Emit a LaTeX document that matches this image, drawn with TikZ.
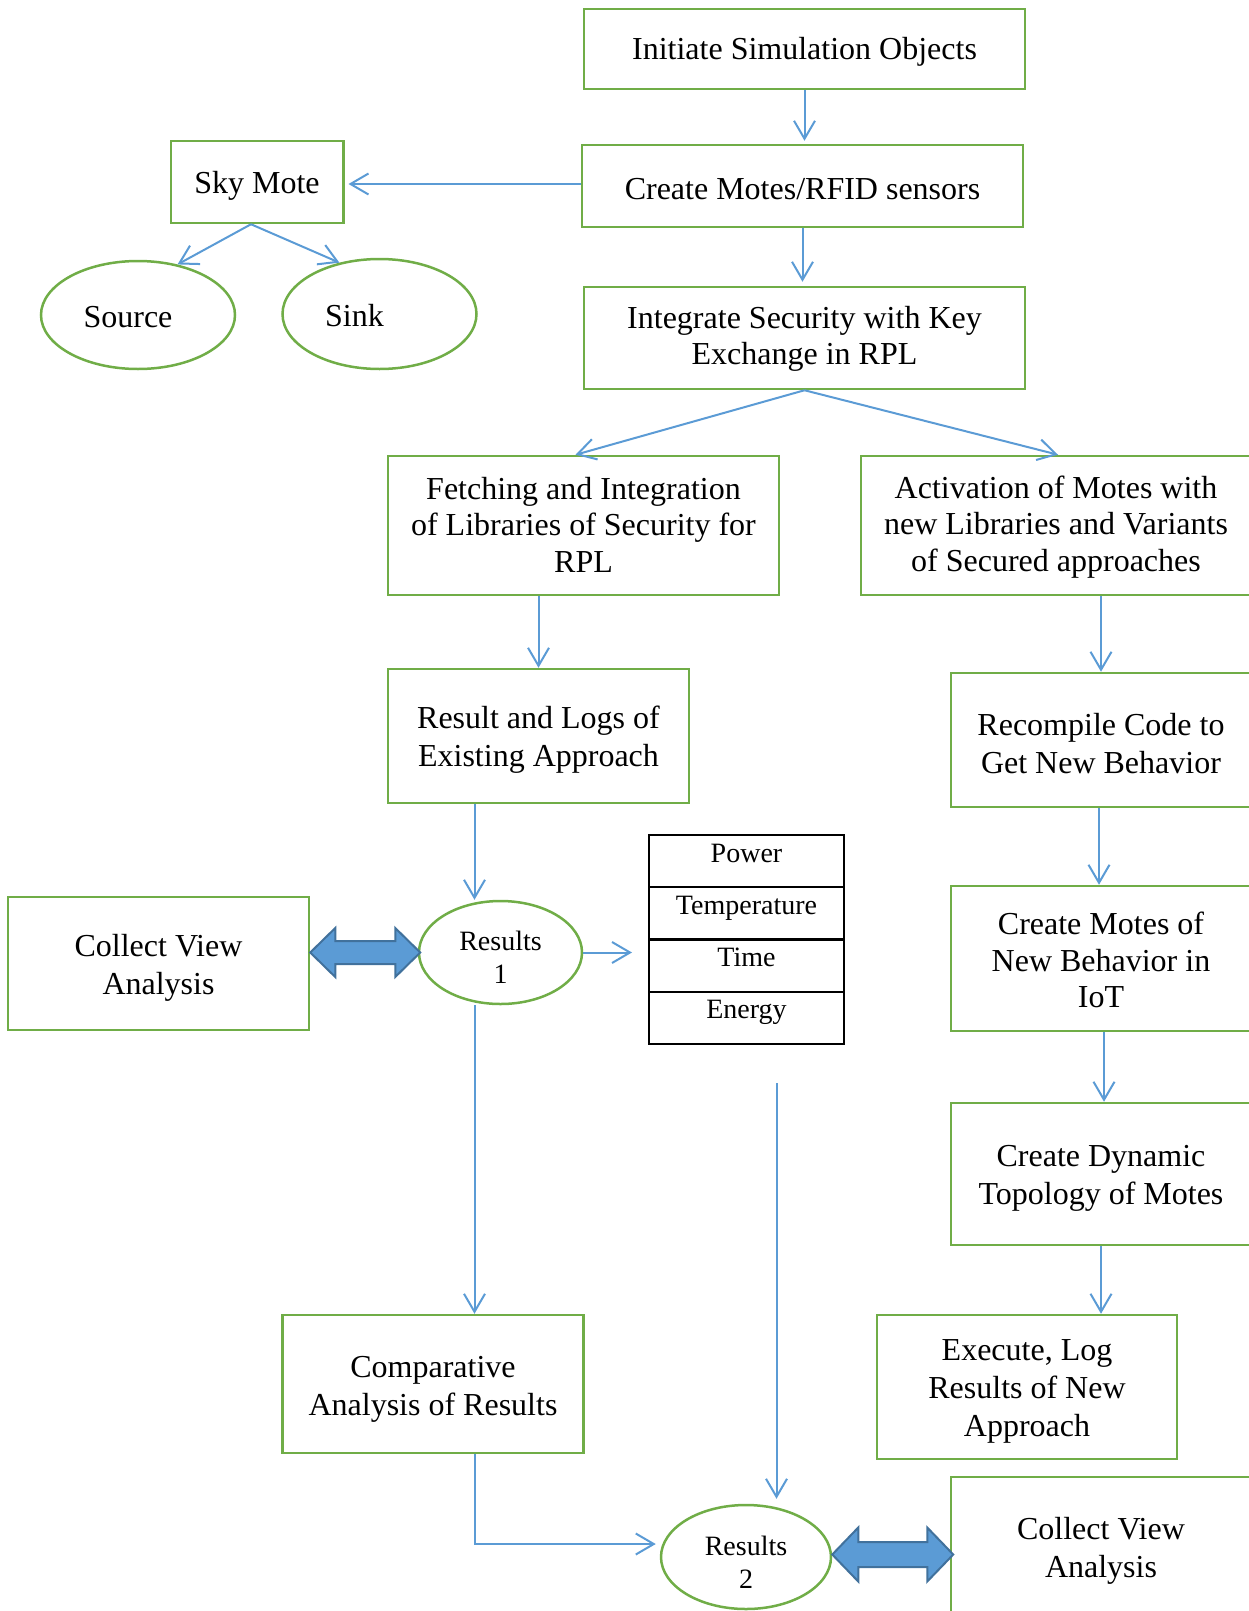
\documentclass[tikz,border=0pt]{standalone}
\usepackage{fontspec}
\setmainfont{Liberation Serif}
\usetikzlibrary{arrows.meta,shapes.geometric,calc}
\definecolor{grn}{HTML}{70AD47}
\definecolor{blu}{HTML}{5B9BD5}
\definecolor{bdark}{HTML}{41719C}
\begin{document}
\begin{tikzpicture}[x=1pt,y=-1pt,
  gbox/.style={draw=grn, line width=2.5pt, inner sep=0pt},
  gell/.style={ellipse, draw=grn, line width=2.5pt, inner sep=0pt},
  btxt/.style={align=center, inner sep=0pt, font=\fontsize{32}{38}\selectfont},
  ntxt/.style={align=center, inner sep=0pt, font=\fontsize{32}{36.5}\selectfont},
  stxt/.style={align=center, inner sep=0pt, font=\fontsize{28}{33}\selectfont},
  arr/.style={draw=blu, line width=2pt, -{Straight Barb[length=18pt,width=21pt]}},
  cell/.style={draw=black, line width=2pt, minimum width=195pt, minimum height=52.25pt, inner sep=0pt, text height=20pt, text depth=18pt, font=\fontsize{28}{32}\selectfont},
  dbl/.style={fill=blu, draw=bdark, line width=2pt, line join=miter}
]
\useasboundingbox (0,0) rectangle (1248,1611);

% box shapes
\node[gbox, minimum width=441pt, minimum height=80pt] (init) at (804.5,49) {};
\node[gbox, minimum width=441pt, minimum height=82pt] (create) at (802.5,186) {};
\node[gbox, minimum width=441pt, minimum height=102pt] (integ) at (804.5,338) {};
\node[gbox, minimum width=172.5pt, minimum height=82pt] (sky) at (257,182) {};
\node[gell, minimum width=194pt, minimum height=108pt] (src) at (138,315) {};
\node[gell, minimum width=194pt, minimum height=110pt] (sink) at (379.5,314) {};
\node[gbox, minimum width=391pt, minimum height=139pt] (fetch) at (583.5,525.5) {};
\node[gbox, minimum width=390pt, minimum height=139pt] (activ) at (1056,525.5) {};
\node[gbox, minimum width=301pt, minimum height=134pt] (reslog) at (538.5,736) {};
\node[gbox, minimum width=300pt, minimum height=134pt] (recomp) at (1101,740) {};
\node[gbox, minimum width=300pt, minimum height=145pt] (cmnew) at (1101,958.5) {};
\node[gbox, minimum width=300pt, minimum height=142pt] (dyn) at (1101,1174) {};
\node[gbox, minimum width=300pt, minimum height=144pt] (exec) at (1027,1387) {};
\node[gbox, minimum width=300pt, minimum height=140pt] (cva2) at (1101,1547) {};
\node[gbox, minimum width=301pt, minimum height=138pt] (comp) at (433,1384) {};
\node[gbox, minimum width=301pt, minimum height=133pt] (cva1) at (158.5,963.5) {};
\node[gell, minimum width=163pt, minimum height=103pt] (res1) at (500.5,952.5) {};
\node[gell, minimum width=170pt, minimum height=104pt] (res2) at (746,1557) {};

% texts
\node[btxt] (init-t) at ([yshift=-3pt]init.center) {Initiate Simulation Objects};
\node[btxt] (create-t) at ([yshift=-3pt]create.center) {Create Motes/RFID sensors};
\node[ntxt] (integ-t) at ([yshift=-1pt]integ.center) {Integrate Security with Key\\Exchange in RPL};
\node[btxt] (sky-t) at ([yshift=-4pt]sky.center) {Sky Mote};
\node[btxt] (src-t) at ([xshift=-10pt,yshift=-2pt]src.center) {Source};
\node[btxt] (sink-t) at ([xshift=-25pt,yshift=-2pt]sink.center) {Sink};
\node[ntxt] (fetch-t) at ([yshift=1pt]fetch.center) {Fetching and Integration\\of Libraries of Security for\\RPL};
\node[ntxt] (activ-t) at ([yshift=-1.5pt]activ.center) {Activation of Motes with\\new Libraries and Variants\\of Secured approaches};
\node[btxt] (reslog-t) at ([yshift=-4pt]reslog.center) {Result and Logs of\\Existing Approach};
\node[btxt] (recomp-t) at ([yshift=-4pt]recomp.center) {Recompile Code to\\Get New Behavior};
\node[ntxt] (cmnew-t) at ([yshift=-1.5pt]cmnew.center) {Create Motes of\\New Behavior in\\IoT};
\node[btxt] (dyn-t) at ([yshift=-4pt]dyn.center) {Create Dynamic\\Topology of Motes};
\node[btxt] (exec-t) at ([yshift=-4pt]exec.center) {Execute, Log\\Results of New\\Approach};
\node[btxt] (cva2-t) at ([yshift=-4pt]cva2.center) {Collect View\\Analysis};
\node[btxt] (comp-t) at ([yshift=-5pt]comp.center) {Comparative\\Analysis of Results};
\node[btxt] (cva1-t) at ([yshift=-4pt]cva1.center) {Collect View\\Analysis};
\node[stxt] (res1-t) at ([yshift=-5pt]res1.center) {Results\\1};
\node[stxt] (res2-t) at ([yshift=-5pt]res2.center) {Results\\2};

% table
\node[cell] (power) at (746.5,861.1) {Power};
\node[cell] (temp) at (746.5,913.4) {Temperature};
\node[cell] (time) at (746.5,965.6) {Time};
\node[cell] (energy) at (746.5,1017.9) {Energy};

% connectors
\draw[arr, shorten >=3pt] (init.south) -- (init.south |- create.north);
\draw[arr, shorten >=4pt] (create.south) -- (create.south |- integ.north);
\draw[arr, shorten >=4pt] ([yshift=2pt]create.west) -- ([yshift=2pt]create.west -| sky.east);
\draw[arr] ([xshift=-6pt]sky.south) -- (src.52);
\draw[arr] ([xshift=-6pt]sky.south) -- (sink.128);
\draw[arr] (integ.south) -- ([xshift=-8pt]fetch.north);
\draw[arr] (integ.south) -- ([xshift=2pt]activ.north);
\draw[arr] (fetch.south -| reslog.north) -- (reslog.north);
\draw[arr] (activ.south -| recomp.north) -- (recomp.north);
\draw[arr] ([xshift=-2pt]recomp.south) -- ([xshift=-2pt]cmnew.north);
\draw[arr] ([xshift=3pt]cmnew.south) -- ([xshift=3pt]dyn.north);
\draw[arr] (dyn.south) -- (dyn.south |- exec.north);
\draw[arr] ([xshift=-64pt]reslog.south) -- ([xshift=-26pt]res1.north);
\draw[arr] ([xshift=-26pt]res1.south) -- ([xshift=-26pt]res1.south |- comp.north);
\coordinate (tabarrow) at (632,951);
\draw[arr] (res1.east) -- (res1.east -| tabarrow);
\coordinate (vtop) at (776.5,1083);
\draw[arr, shorten >=5pt] (vtop) -- (vtop |- res2.north);
\draw[arr, shorten >=4pt] ([xshift=41.5pt]comp.south) |- ([yshift=13pt]res2.west);

% double block arrows
\path[dbl] (cva1.east |- res1.west) -- ++(25,-24.5) -- ++(0,13) -- ++(60,0) -- ++(0,-13) -- ++(25,24.5) -- ++(-25,24.5) -- ++(0,-13) -- ++(-60,0) -- ++(0,13) -- cycle;
\path[dbl] ([yshift=2.5pt]res2.east) -- ++(26,-27) -- ++(0,14.5) -- ++(69,0) -- ++(0,-14.5) -- ++(26,27) -- ++(-26,27) -- ++(0,-14.5) -- ++(-69,0) -- ++(0,14.5) -- cycle;
\end{tikzpicture}
\end{document}
